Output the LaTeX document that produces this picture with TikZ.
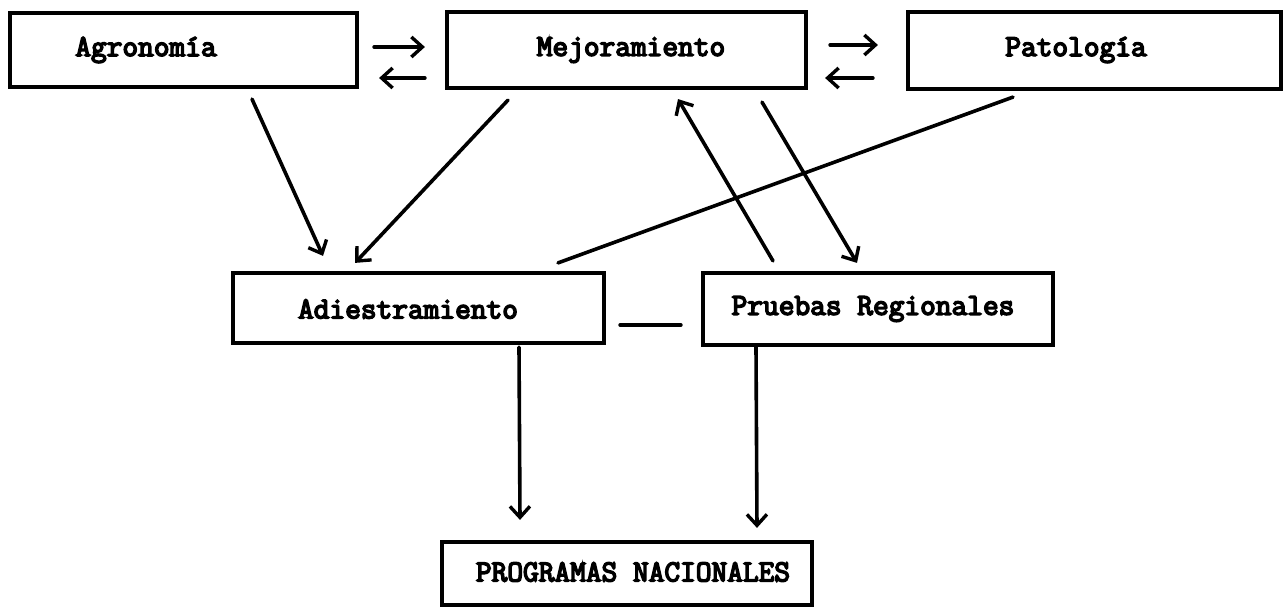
\documentclass[tikz,border=0pt]{standalone}
\usepackage{fontspec}
\usepackage{graphicx}
\usetikzlibrary{arrows.meta}
\newfontfamily\tw{Latin Modern Mono}[FakeBold=5]
\tikzset{
  box/.style={draw,line width=4.2pt,rectangle,inner sep=0pt},
  lbl/.style={font=\tw\fontsize{30.5}{36}\selectfont,inner sep=0pt,anchor=center},
  conn/.style={line width=3.6pt,line cap=round},
  arr/.style={conn,-{Straight Barb[length=11pt,width=20pt,line width=3.4pt]}}
}
\begin{document}
\begin{tikzpicture}[x=1pt,y=-1pt]
\useasboundingbox[fill=white] (0,0) rectangle (1286,609);
% boxes
\node[box,minimum width=347pt,minimum height=74pt] (agro) at (183.5,50) {};
\node[box,minimum width=359pt,minimum height=76pt] (mejo) at (626.5,50) {};
\node[box,minimum width=373pt,minimum height=77pt] (pato) at (1094.5,50.5) {};
\node[box,minimum width=371pt,minimum height=70pt] (adi) at (418.5,308) {};
\node[box,minimum width=350pt,minimum height=72pt] (prue) at (878,309) {};
\node[box,minimum width=370pt,minimum height=63pt] (prog) at (627,573.5) {};
% labels
\node[lbl] (tagro) at (146,50) {Agronomía};
\node[lbl] (tmejo) at (631,50) {Mejoramiento};
\node[lbl] (tpato) at (1076,50) {Patología};
\node[lbl] (tadi) at (408,309) {Adiestramiento};
\node[lbl] (tprue) at (873,309) {Pruebas Regionales};
\node[lbl] (tprog) at (633,572) {PROGRAMAS NACIONALES};
% connectors
\draw[arr] ([shift={(15,-3)}]agro.east) -- ([shift={(-20,-3)}]mejo.west);
\draw[arr] ([shift={(-20,28)}]mejo.west) -- ([shift={(20,28)}]agro.east);
\draw[arr] ([shift={(22,-5)}]mejo.east) -- ([shift={(-28,-5.5)}]pato.west);
\draw[arr] ([shift={(-33,27.5)}]pato.west) -- ([shift={(17,28)}]mejo.east);
\draw[arr] ([shift={(68.5,10)}]agro.south) -- ([shift={(-95.5,-15)}]adi.north);
\draw[arr] ([shift={(-118.5,10)}]mejo.south) -- ([shift={(-63.5,-8)}]adi.north);
\draw[conn] ([shift={(-81.5,6)}]pato.south) -- ([shift={(139.5,-8)}]adi.north);
\draw[arr] ([shift={(-105,-10)}]prue.north) -- ([shift={(51.5,9)}]mejo.south);
\draw[arr] ([shift={(135.5,12)}]mejo.south) -- ([shift={(-21,-8)}]prue.north);
\draw[conn] ([shift={(14,17)}]adi.east) -- ([shift={(-20,16)}]prue.west);
\draw[arr] ([shift={(100.5,2)}]adi.south) -- ([shift={(-107,-20)}]prog.north);
\draw[arr] ([shift={(-122,0)}]prue.south) -- ([shift={(130,-12)}]prog.north);
\end{tikzpicture}
\end{document}
